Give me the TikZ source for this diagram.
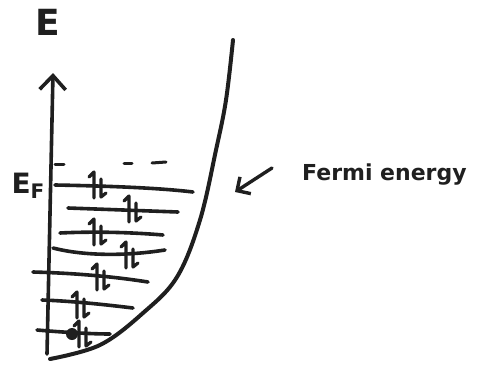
\documentclass[tikz,border=0pt]{standalone}
\usepackage{fontspec}
\setmainfont{DejaVu Sans}
\usetikzlibrary{arrows.meta}
\tikzset{
  ink/.style={draw=black!88, line cap=round, line join=round},
  level/.style={ink, line width=3.6pt},
  spinpair/.pic={
    \draw[ink, line width=3.2pt] (-3,13) -- (-3,-13) -- (-8,-8);
    \draw[ink, line width=3.2pt] (4,-6) -- (4,12) -- (9,8);
  },
  lbl/.style={inner sep=0pt, text=black!88, font=\bfseries}
}
\begin{document}
\begin{tikzpicture}[x=1pt,y=-1pt]
\useasboundingbox (0,0) rectangle (486,369);
% labels
\node[lbl, font=\bfseries\fontsize{36}{36}\selectfont] (E) at (48,22) {E};
\node[lbl, font=\bfseries\fontsize{28}{28}\selectfont] (EF) at (28,186) {E\raisebox{-0.3ex}{\fontsize{20}{20}\selectfont F}};
\node[lbl, font=\bfseries\fontsize{22}{22}\selectfont, anchor=base west] (fermi) at (302,180) {Fermi energy};
% axis
\coordinate (axbot) at (47,354);
\coordinate (axtop) at (53,73);
\draw[ink, line width=3.6pt, -{Straight Barb[length=14pt,width=26pt,line width=3.6pt]}] (axbot) -- (axtop);
% well (parabola)
\draw[ink, line width=4pt] plot[smooth, tension=0.6] coordinates {(233,40) (226,100) (216,150) (200,220) (177,277) (143,313) (100,345) (50,359)};
% Fermi marks
\draw[ink, line width=3pt] (55,164) -- (64,164);
\draw[ink, line width=3pt] (124,163) -- (132,163);
\draw[ink, line width=3pt] (152,163) -- (166,162);
% levels
\draw[level] (55,185) .. controls (110,186) and (160,188) .. (193,192);
\draw[level] (68,208) -- (178,212);
\draw[level] (60,233) .. controls (100,231) and (140,233) .. (163,235);
\draw[level] (53,248) .. controls (80,255) and (120,257) .. (165,250);
\draw[level] (33,272) .. controls (70,273) and (110,276) .. (148,282);
\draw[level] (42,300) .. controls (70,301) and (100,304) .. (133,308);
\draw[level] (37,330) .. controls (60,332) and (90,334) .. (110,334);
% spin pairs
\pic at (97,185) {spinpair};
\pic at (132,209) {spinpair};
\pic at (97,232) {spinpair};
\pic at (129,255) {spinpair};
\pic at (100,277) {spinpair};
\pic at (80,305) {spinpair};
\pic at (82,334) {spinpair};
\fill[black!88] (72,334) circle (6);
% Fermi arrow
\coordinate (fa) at (272,168);
\coordinate (fb) at (235,192);
\draw[ink, line width=3.4pt, -{Straight Barb[length=10pt,width=20pt,line width=3.4pt]}] (fa) -- (fb);
\end{tikzpicture}
\end{document}
